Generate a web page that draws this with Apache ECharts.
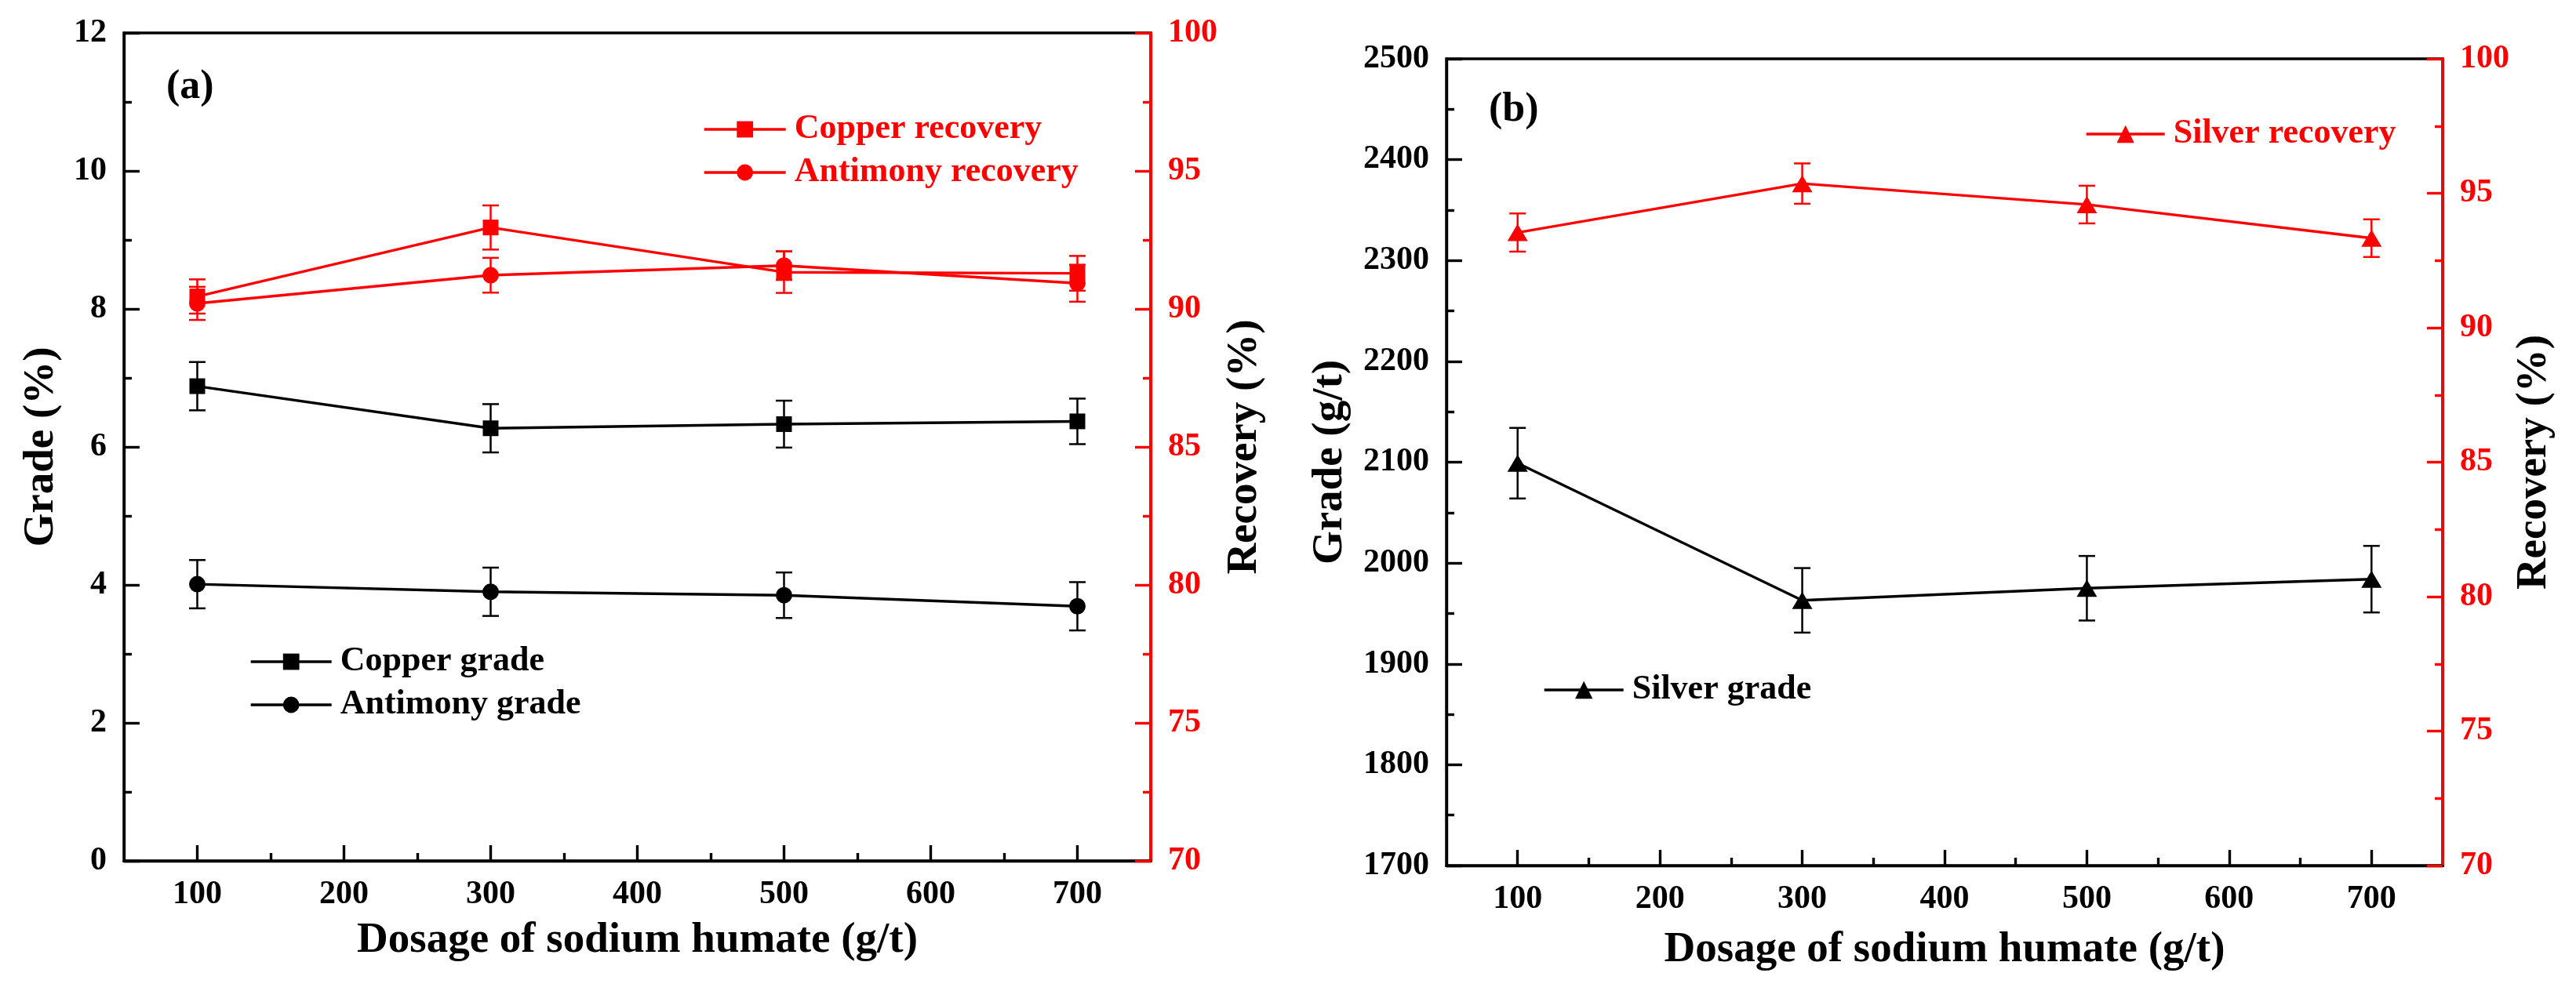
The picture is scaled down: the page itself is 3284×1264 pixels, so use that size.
<!DOCTYPE html>
<html>
<head>
<meta charset="utf-8">
<script src="https://cdn.jsdelivr.net/npm/echarts@6/dist/echarts.min.js"></script>
<style>
html,body{margin:0;padding:0;background:#fff;}
#chart{width:3284px;height:1264px;}
</style>
</head>
<body>
<div id="chart"></div>
<script>
// ---- data ----
const dosage = [100, 300, 500, 700];
const xMajorTicks = [100, 200, 300, 400, 500, 600, 700];
const xMinorTicks = [150, 250, 350, 450, 550, 650];

const copperGrade = [6.88, 6.27, 6.33, 6.37];
const copperGradeErr = [0.35, 0.35, 0.34, 0.33];
const antimonyGrade = [4.01, 3.90, 3.85, 3.69];
const antimonyGradeErr = [0.35, 0.35, 0.33, 0.35];
const copperRecovery = [90.45, 92.95, 91.33, 91.29];
const copperRecoveryErr = [0.62, 0.8, 0.75, 0.63];
const antimonyRecovery = [90.2, 91.22, 91.57, 90.93];
const antimonyRecoveryErr = [0.6, 0.63, 0.52, 0.67];

const silverGrade = [2099, 1963, 1975, 1984];
const silverGradeErr = [35, 32, 32, 33];
const silverRecovery = [93.54, 95.36, 94.58, 93.33];
const silverRecoveryErr = [0.71, 0.75, 0.7, 0.7];

// ---- styling helpers ----
const FONT = 'Liberation Serif';
const RED = '#ff0000';
const BLACK = '#000000';
const LW = 3.4;

function pairs(ys) { return dosage.map((x, i) => [x, ys[i]]); }
function errData(ys, es) { return dosage.map((x, i) => [x, ys[i] - es[i], ys[i] + es[i]]); }

function lineSeries(name, ys, color, symbol, size, xi, yi) {
  return {
    type: 'line', name: name, data: pairs(ys), xAxisIndex: xi, yAxisIndex: yi,
    symbol: symbol, symbolSize: size, showSymbol: true,
    lineStyle: { color: color, width: LW },
    itemStyle: { color: color },
    z: 5, animation: false
  };
}
function errSeries(ys, es, color, xi, yi) {
  return {
    type: 'custom', xAxisIndex: xi, yAxisIndex: yi, data: errData(ys, es),
    encode: { x: 0, y: [1, 2] }, z: 4, animation: false, silent: true,
    renderItem: function (params, api) {
      const x = api.value(0);
      const top = api.coord([x, api.value(2)]);
      const bot = api.coord([x, api.value(1)]);
      const h = 10.5;
      const st = { stroke: color, lineWidth: 2.5 };
      return { type: 'group', children: [
        { type: 'line', shape: { x1: top[0], y1: top[1], x2: bot[0], y2: bot[1] }, style: st },
        { type: 'line', shape: { x1: top[0] - h, y1: top[1], x2: top[0] + h, y2: top[1] }, style: st },
        { type: 'line', shape: { x1: bot[0] - h, y1: bot[1], x2: bot[0] + h, y2: bot[1] }, style: st }
      ]};
    }
  };
}

function mainX(grid, nameGap) {
  return {
    type: 'value', gridIndex: grid, min: 50, max: 750, position: 'bottom',
    name: 'Dosage of sodium humate (g/t)', nameLocation: 'middle', nameGap: nameGap,
    nameTextStyle: { fontFamily: FONT, fontWeight: 'bold', fontSize: 55, color: BLACK },
    axisLine: { show: true, lineStyle: { color: BLACK, width: LW } },
    axisTick: { show: true, inside: true, length: 20, customValues: xMajorTicks, lineStyle: { color: BLACK, width: LW } },
    axisLabel: { show: true, customValues: xMajorTicks, margin: 22, fontFamily: FONT, fontWeight: 'bold', fontSize: 42, color: BLACK },
    splitLine: { show: false }
  };
}
function minorX(grid) {
  return {
    type: 'value', gridIndex: grid, min: 50, max: 750, position: 'bottom',
    axisLine: { show: false },
    axisTick: { show: true, inside: true, length: 10, customValues: xMinorTicks, lineStyle: { color: BLACK, width: LW } },
    axisLabel: { show: false },
    splitLine: { show: false }
  };
}
function yAxisDef(grid, pos, min, max, interval, name, nameGap, color) {
  return {
    type: 'value', gridIndex: grid, position: pos, min: min, max: max, interval: interval,
    name: name, nameLocation: 'middle', nameGap: nameGap, nameRotate: 90,
    nameTextStyle: { fontFamily: FONT, fontWeight: 'bold', fontSize: 55, color: BLACK },
    axisLine: { show: true, onZero: false, lineStyle: { color: color, width: LW } },
    axisTick: { show: true, inside: true, length: 20, lineStyle: { color: color, width: LW } },
    minorTick: { show: true, splitNumber: 2, length: 10, lineStyle: { color: color, width: LW } },
    axisLabel: { margin: 22, fontFamily: FONT, fontWeight: 'bold', fontSize: 42, color: color,
                 formatter: function (v) { return String(v); } },
    splitLine: { show: false }, minorSplitLine: { show: false }
  };
}
function legendDef(names, left, top, color, itemWidth, itemHeight) {
  return {
    data: names, orient: 'vertical', left: left, top: top, padding: 0,
    itemWidth: itemWidth, itemHeight: itemHeight, itemGap: 11,
    lineStyle: { width: LW },
    textStyle: { fontFamily: FONT, fontWeight: 'bold', fontSize: 44, color: color, padding: [0, 0, 0, 6] },
    selectedMode: false
  };
}

const option = {
  backgroundColor: '#ffffff',
  animation: false,
  title: [
    { text: '(a)', left: 212, top: 86, padding: 0, textStyle: { fontFamily: FONT, fontWeight: 'bold', fontSize: 52, color: BLACK } },
    { text: '(b)', left: 1898, top: 115, padding: 0, textStyle: { fontFamily: FONT, fontWeight: 'bold', fontSize: 52, color: BLACK } }
  ],
  grid: [
    { left: 158, top: 42, width: 1309, height: 1056, show: true, borderColor: BLACK, borderWidth: LW, backgroundColor: 'transparent' },
    { left: 1844, top: 75, width: 1270, height: 1029, show: true, borderColor: BLACK, borderWidth: LW, backgroundColor: 'transparent' }
  ],
  xAxis: [ mainX(0, 74), minorX(0), mainX(1, 80), minorX(1) ],
  yAxis: [
    yAxisDef(0, 'left', 0, 12, 2, 'Grade (%)', 78, BLACK),
    yAxisDef(0, 'right', 70, 100, 5, 'Recovery (%)', 92, RED),
    yAxisDef(1, 'left', 1700, 2500, 100, 'Grade (g/t)', 121, BLACK),
    yAxisDef(1, 'right', 70, 100, 5, 'Recovery (%)', 84, RED)
  ],
  legend: [
    legendDef(['Copper recovery', 'Antimony recovery'], 896, 143, RED, 104, 26),
    legendDef(['Copper grade', 'Antimony grade'], 318, 822, BLACK, 103, 26),
    legendDef(['Silver recovery'], 2658, 149, RED, 100, 28),
    legendDef(['Silver grade'], 1967, 858, BLACK, 101, 28)
  ],
  series: [
    errSeries(copperGrade, copperGradeErr, BLACK, 0, 0),
    errSeries(antimonyGrade, antimonyGradeErr, BLACK, 0, 0),
    errSeries(copperRecovery, copperRecoveryErr, RED, 0, 1),
    errSeries(antimonyRecovery, antimonyRecoveryErr, RED, 0, 1),
    lineSeries('Copper grade', copperGrade, BLACK, 'rect', 20, 0, 0),
    lineSeries('Antimony grade', antimonyGrade, BLACK, 'circle', 21, 0, 0),
    lineSeries('Copper recovery', copperRecovery, RED, 'rect', 20, 0, 1),
    lineSeries('Antimony recovery', antimonyRecovery, RED, 'circle', 21, 0, 1),
    errSeries(silverGrade, silverGradeErr, BLACK, 2, 2),
    errSeries(silverRecovery, silverRecoveryErr, RED, 2, 3),
    lineSeries('Silver grade', silverGrade, BLACK, 'triangle', [26, 22], 2, 2),
    lineSeries('Silver recovery', silverRecovery, RED, 'triangle', [26, 22], 2, 3)
  ]
};

const chart = echarts.init(document.getElementById('chart'), null, { renderer: 'canvas' });
chart.setOption(option);
</script>
</body>
</html>
